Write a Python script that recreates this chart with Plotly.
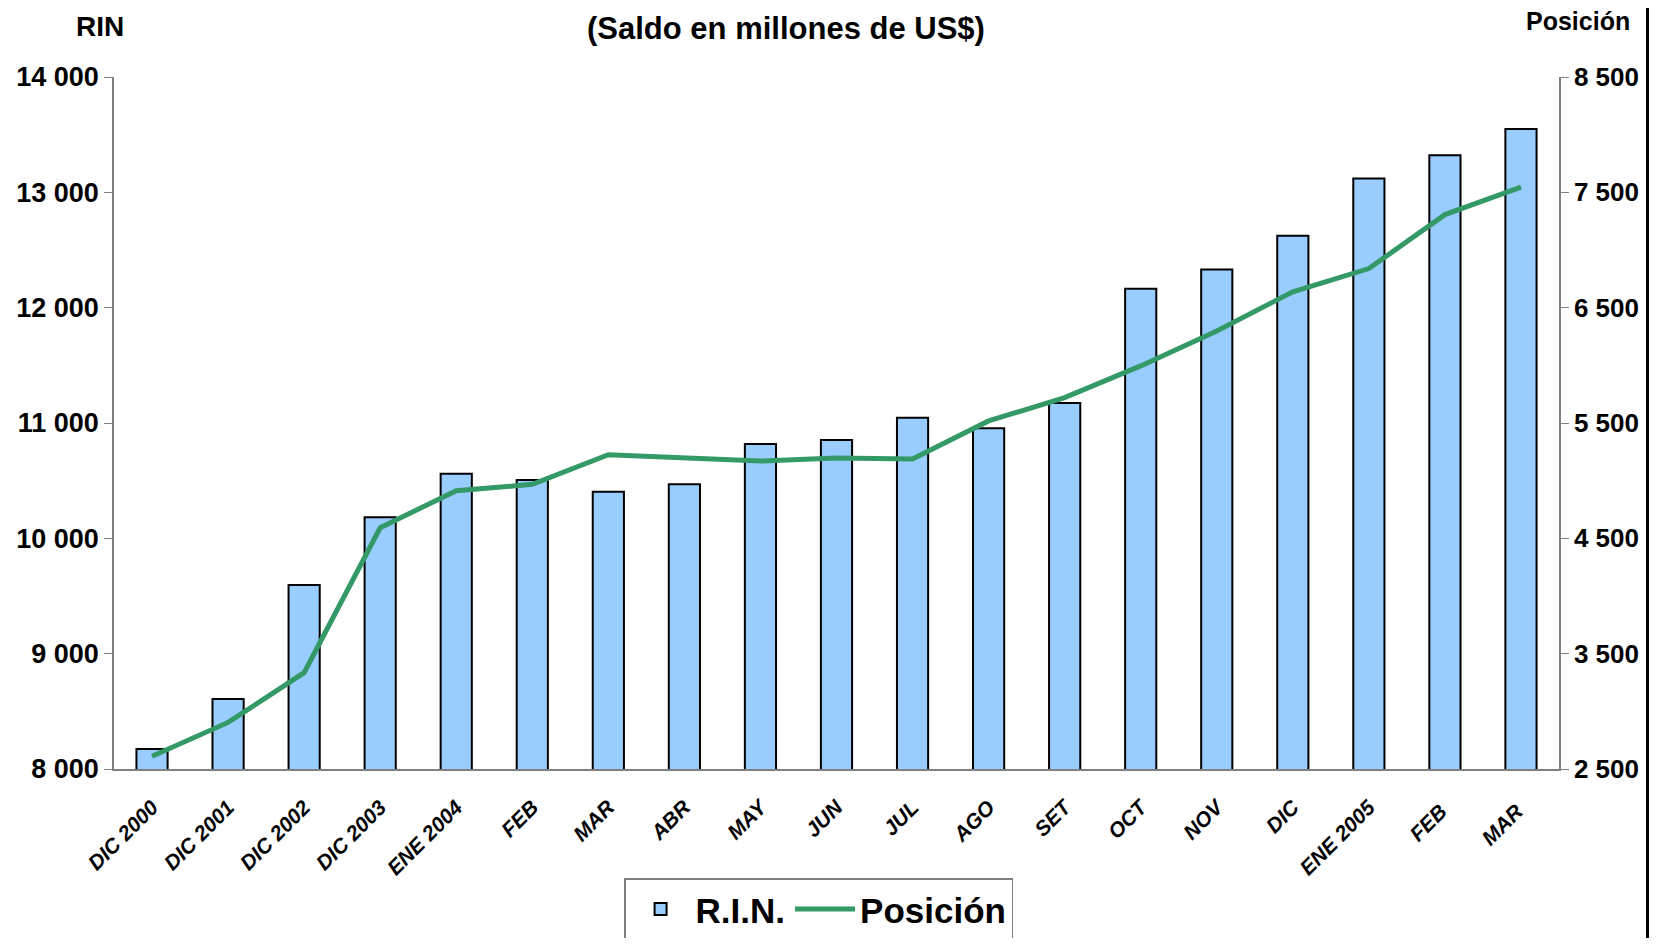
import plotly.graph_objects as go

categories = ["DIC 2000", "DIC 2001", "DIC 2002", "DIC 2003", "ENE 2004", "FEB", "MAR", "ABR",
              "MAY", "JUN", "JUL", "AGO", "SET", "OCT", "NOV", "DIC", "ENE 2005", "FEB ", "MAR "]
rin = [8174, 8606, 9596, 10183, 10560, 10505, 10404, 10468, 10817, 10853, 11046, 10954,
       11174, 12165, 12330, 12624, 13119, 13321, 13550]
posicion = [2610, 2904, 3335, 4592, 4913, 4968, 5225, 5197, 5170, 5197, 5188, 5518,
            5720, 5995, 6298, 6638, 6839, 7307, 7546]
left_ticks = [8000, 9000, 10000, 11000, 12000, 13000, 14000]
left_labels = ["8 000", "9 000", "10 000", "11 000", "12 000", "13 000", "14 000"]
right_ticks = [2500, 3500, 4500, 5500, 6500, 7500, 8500]
right_labels = ["2 500", "3 500", "4 500", "5 500", "6 500", "7 500", "8 500"]

FONT = "Liberation Sans, Arial, sans-serif"

fig = go.Figure()
fig.add_trace(go.Bar(
    x=categories, y=rin, name="R.I.N.",
    marker=dict(color="#99CCFF", line=dict(color="#000000", width=2)),
    width=0.41, yaxis="y",
))
fig.add_trace(go.Scatter(
    x=categories, y=posicion, name="Posición", mode="lines",
    line=dict(color="#339966", width=5), yaxis="y2",
))

fig.update_layout(
    width=1641, height=930,
    margin=dict(l=106, r=90, t=69, b=169, autoexpand=False),
    paper_bgcolor="white", plot_bgcolor="white",
    font=dict(family=FONT, color="#000000"),
    showlegend=True,
    legend=dict(
        orientation="h", x=0.353, xanchor="left", y=-0.158, yanchor="top",
        bordercolor="#808080", borderwidth=1.5,
        font=dict(family=FONT, size=35, color="#000000", weight="bold"),
        tracegroupgap=0, itemwidth=60,
    ),
    xaxis=dict(
        type="category", showgrid=False, showline=True, linecolor="#808080", linewidth=1.5,
        ticks="", tickangle=-45, ticklabelstandoff=16, automargin=False,
        tickfont=dict(family=FONT, size=21, color="#000000", weight="bold", style="italic"),
        range=[-0.5, 18.5],
    ),
    yaxis=dict(
        range=[8000, 14000], tickvals=left_ticks, ticktext=left_labels,
        showgrid=False, showline=True, linecolor="#808080", linewidth=1.5,
        ticks="outside", ticklen=8, tickcolor="#808080", automargin=False,
        tickfont=dict(family=FONT, size=27, color="#000000", weight="bold"),
        zeroline=False,
    ),
    yaxis2=dict(
        range=[2500, 8500], tickvals=right_ticks, ticktext=right_labels,
        overlaying="y", side="right", automargin=False,
        showgrid=False, showline=True, linecolor="#808080", linewidth=1.5,
        ticks="outside", ticklen=8, tickcolor="#808080",
        tickfont=dict(family=FONT, size=26, color="#000000", weight="bold"),
        zeroline=False,
    ),
    annotations=[
        dict(text="(Saldo en millones de US$)", xref="paper", yref="paper",
             x=0.465, y=1.0, yshift=49, xanchor="center", yanchor="middle",
             showarrow=False, font=dict(family=FONT, size=31, color="#000000", weight="bold")),
        dict(text="RIN", xref="paper", yref="paper", x=-0.01, y=1.0, yshift=51,
             xanchor="center", yanchor="middle", showarrow=False,
             font=dict(family=FONT, size=28, color="#000000", weight="bold")),
        dict(text="Posición", xref="paper", yref="paper", x=1.013, y=1.0, yshift=56,
             xanchor="center", yanchor="middle", showarrow=False,
             font=dict(family=FONT, size=25, color="#000000", weight="bold")),
    ],
    shapes=[
        dict(type="line", xref="paper", yref="paper", x0=1.0623, x1=1.0623, y0=-0.3, y1=1.12,
             line=dict(color="#000000", width=6)),
    ],
)

fig.write_html("out.html")
